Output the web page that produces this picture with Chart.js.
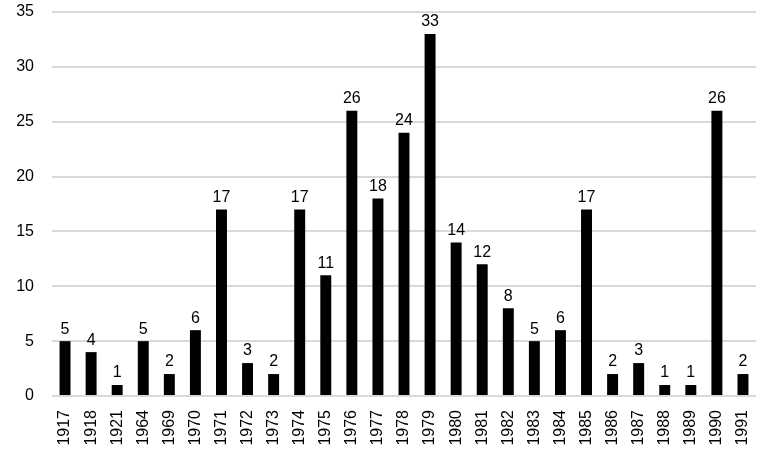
<!DOCTYPE html>
<html>
<head>
<meta charset="utf-8">
<script src="https://cdn.jsdelivr.net/npm/chart.js@4"></script>
<style>
  html, body { margin: 0; padding: 0; background: #fff; }
  #wrap { width: 780px; height: 454px; }
</style>
</head>
<body>
<div id="wrap"><canvas id="myChart"></canvas></div>
<script>
const years = ['1917', '1918', '1921', '1964', '1969', '1970', '1971', '1972', '1973', '1974', '1975', '1976', '1977', '1978',
  '1979', '1980', '1981', '1982', '1983', '1984', '1985', '1986', '1987', '1988', '1989', '1990', '1991'];
const counts = [5, 4, 1, 5, 2, 6, 17, 3, 2, 17, 11, 26, 18, 24, 33, 14, 12, 8, 5, 6, 17, 2, 3, 1, 1, 26, 2];
const yMax = 35;
const yStep = 5;

const fuente = 'Liberation Sans, Arial, sans-serif';

// etiquetas de valor encima de cada barra
const etiquetas = {
  id: 'etiquetas',
  afterDatasetsDraw(chart) {
    const ctx = chart.ctx;
    const meta = chart.getDatasetMeta(0);
    ctx.save();
    ctx.font = '16px ' + fuente;
    ctx.fillStyle = '#000';
    ctx.textAlign = 'center';
    ctx.textBaseline = 'bottom';
    meta.data.forEach((bar, i) => {
      ctx.fillText(counts[i], bar.x, bar.y - 4);
    });
    ctx.restore();
  }
};

new Chart(document.getElementById('myChart'), {
  type: 'bar',
  data: {
    labels: years,
    datasets: [{
      data: counts,
      backgroundColor: '#000',
      barPercentage: 0.42,
      categoryPercentage: 1
    }]
  },
  options: {
    responsive: true,
    maintainAspectRatio: false,
    animation: false,
    layout: { padding: { top: 12, right: 24, left: 0, bottom: 0 } },
    plugins: {
      legend: { display: false },
      tooltip: { enabled: false }
    },
    scales: {
      x: {
        grid: { display: false },
        border: { display: false },
        ticks: {
          color: '#000',
          font: { family: fuente, size: 16 },
          minRotation: 90,
          maxRotation: 90,
          autoSkip: false,
          padding: 6
        },
        afterFit: s => {
          s.height = 58;
          s.paddingLeft = 0;
          s.paddingRight = 0;
        }
      },
      y: {
        min: 0,
        max: yMax,
        grid: { color: '#d9d9d9', lineWidth: 2, drawTicks: false },
        border: { display: false },
        ticks: {
          stepSize: yStep,
          color: '#000',
          font: { family: fuente, size: 16 },
          padding: 18
        },
        afterFit: s => {
          s.width = 52;
          s.paddingTop = 0;
          s.paddingBottom = 0;
        }
      }
    }
  },
  plugins: [etiquetas]
});
</script>
</body>
</html>
